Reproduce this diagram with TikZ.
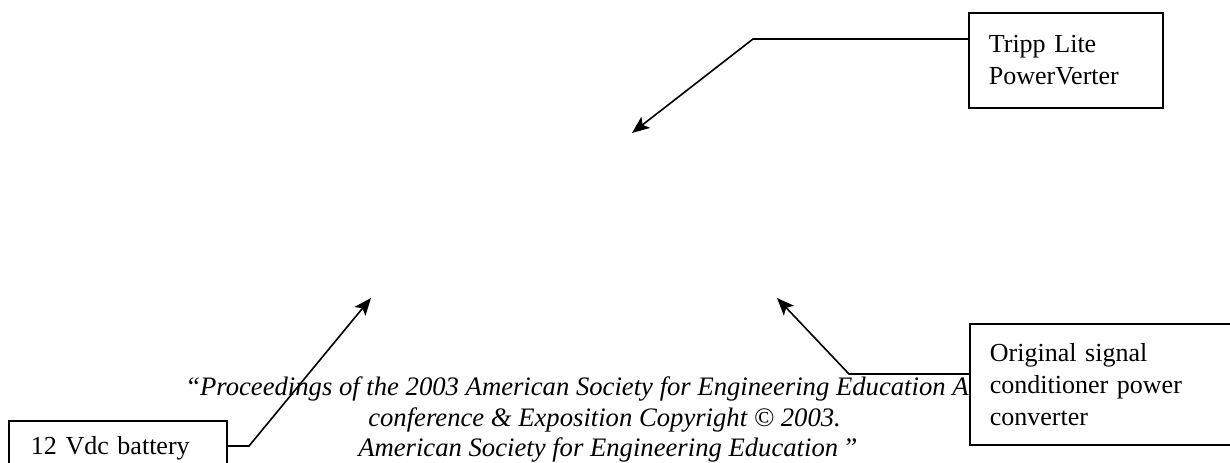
\documentclass[tikz,border=0pt]{standalone}
\usepackage{fontspec}
\setmainfont{Liberation Serif}
\usetikzlibrary{arrows.meta, positioning}
\tikzset{
  partbox/.style={draw, line width=1.3pt, fill=white, align=left, anchor=north west,
    inner xsep=15pt, inner ysep=0pt, font=\fontsize{19.5}{24}\selectfont},
  pointer/.style={line width=1.2pt, -{Stealth[length=13pt, width=10.5pt, inset=3pt]}},
  citeline/.style={anchor=base west, inner sep=0pt, font=\fontsize{20}{23}\selectfont\itshape}
}
\begin{document}
\begin{tikzpicture}[x=0.75pt, y=-0.75pt]
   \clip (0,0) rectangle (1230,462);
   % Citation lines
   \node[citeline] (cite1) at (185,395) {“Proceedings of the 2003 American Society for Engineering Education Annual};
   \node[citeline] (cite2) at (368,426) {conference \& Exposition Copyright © 2003.};
   \node[citeline] (cite3) at (358,456) {American Society for Engineering Education\,”};
   % Labelled parts
   \node[partbox, text width=115.5pt, minimum height=71.25pt] (tripp) at (968,12) {Tripp Lite\\PowerVerter};
   \node[partbox, text width=173pt, minimum height=90.75pt] (signal) at (969,323) {Original signal\\conditioner power\\converter};
   \node[partbox, inner xsep=16.5pt, text width=130.5pt, minimum height=40.5pt] (battery) at (8,420) {12 Vdc battery};
   % Leader lines
   \coordinate (bend1) at (753,39);
   \coordinate (tip1) at (632,133);
   \draw[pointer] (bend1 -| tripp.west) -- (bend1) -- (tip1);
   \coordinate (bend2) at (849,374);
   \coordinate (tip2) at (777,298);
   \draw[pointer] (bend2 -| signal.west) -- (bend2) -- (tip2);
   \coordinate (bend3) at (249,446);
   \coordinate (tip3) at (371,298);
   \draw[pointer] (bend3 -| battery.east) -- (bend3) -- (tip3);
\end{tikzpicture}
\end{document}
